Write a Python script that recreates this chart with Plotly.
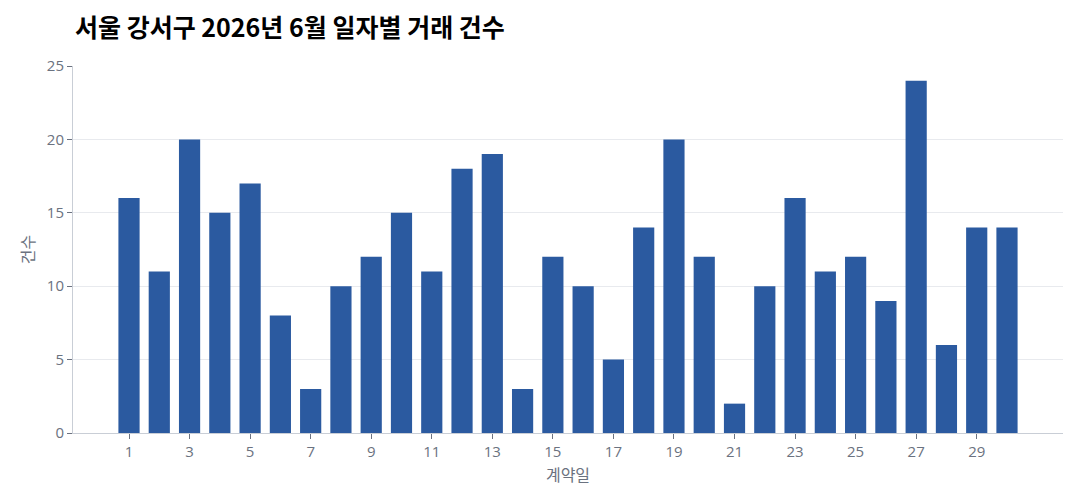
import plotly.graph_objects as go

days = list(range(1, 31))
counts = [16, 11, 20, 15, 17, 8, 3, 10, 12, 15, 11, 18, 19, 3, 12, 10, 5, 14, 20, 12,
          2, 10, 16, 11, 12, 9, 24, 6, 14, 14]
tick_days = [1, 3, 5, 7, 9, 11, 13, 15, 17, 19, 21, 23, 25, 27, 29]
title_text = "서울 강서구 2026년 6월 일자별 거래 건수"
x_title = "계약일"
y_title = "건수"

font_family = "Noto Sans CJK KR, Noto Sans, sans-serif"
tick_family = "Open Sans, Noto Sans CJK KR, sans-serif"
tick_color = "#6b7280"
axis_color = "#c9ced6"
grid_color = "#e8eaee"

fig = go.Figure(go.Bar(x=days, y=counts, marker_color="#2b5aa0",
                       marker_line_width=0, width=0.7))

fig.update_layout(
    width=1080, height=504,
    margin=dict(l=65, r=25, t=58, b=79),
    paper_bgcolor="white", plot_bgcolor="white",
    font=dict(family=font_family, size=14, color=tick_color),
    title=dict(text="<b>" + title_text + "</b>", x=67 / 1080, xref="container", xanchor="left",
               y=1 - 20.5 / 504, yanchor="middle",
               font=dict(family=font_family, size=25, color="#000000")),
    showlegend=False,
)
fig.update_xaxes(
    range=[-0.85, 31.85], tickmode="array", tickvals=tick_days,
    showline=True, linecolor=axis_color, linewidth=1,
    ticks="outside", ticklen=5, tickcolor="#6b7280",
    showgrid=False, zeroline=False,
    title=dict(text=x_title, font=dict(size=16, color=tick_color), standoff=9),
    tickfont=dict(family=tick_family, size=15, color=tick_color),
)
fig.update_yaxes(
    range=[0, 25], tickmode="linear", tick0=0, dtick=5,
    showline=True, linecolor=axis_color, linewidth=1,
    ticks="outside", ticklen=5, tickcolor="#6b7280",
    showgrid=True, gridcolor=grid_color, zeroline=False,
    title=dict(text=y_title, font=dict(size=16, color=tick_color), standoff=8),
    tickfont=dict(family=tick_family, size=15, color=tick_color),
)

fig.write_html("out.html")
